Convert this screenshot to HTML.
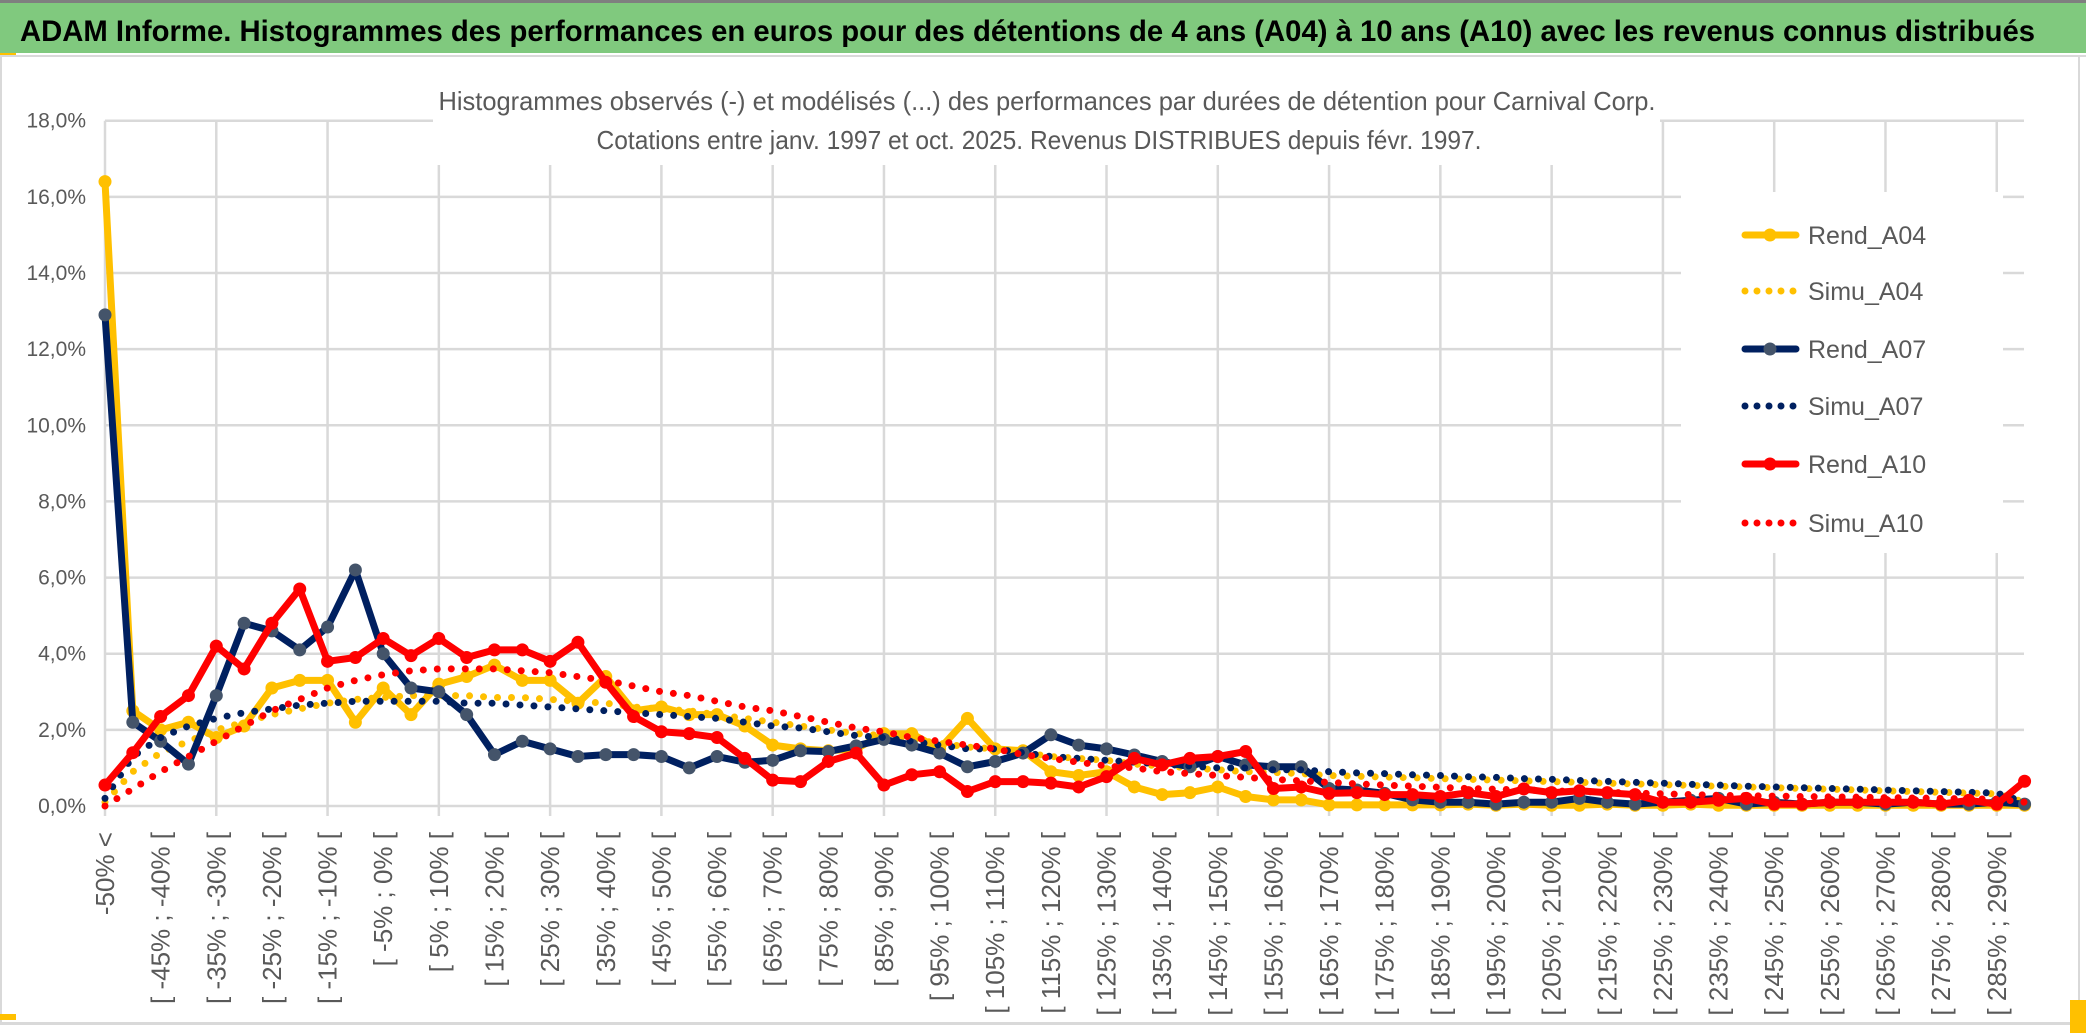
<!DOCTYPE html>
<html><head><meta charset="utf-8"><style>
html,body{margin:0;padding:0;background:#fff;}
svg{display:block;font-family:"Liberation Sans",sans-serif;}
</style></head><body>
<svg id="chart" width="2086" height="1033" viewBox="0 0 2086 1033" xmlns="http://www.w3.org/2000/svg">
<rect x="0" y="0" width="2086" height="1033" fill="#fff"/>
<rect x="0" y="0" width="2086" height="3" fill="#7f7f7f"/>
<rect x="0" y="3" width="2086" height="50" fill="#80C97E"/>
<text x="20" y="41" font-size="30" font-weight="bold" fill="#000" textLength="2015" lengthAdjust="spacingAndGlyphs">ADAM Informe. Histogrammes des performances en euros pour des détentions de 4 ans (A04) à 10 ans (A10) avec les revenus connus distribués</text>
<rect x="0" y="53" width="16" height="3" fill="#FFC000"/>
<rect x="0" y="55" width="2086" height="2" fill="#d9d9d9"/>
<rect x="0" y="55" width="2" height="970" fill="#d9d9d9"/>
<rect x="2078" y="55" width="2" height="970" fill="#d9d9d9"/>
<rect x="0" y="1022" width="2086" height="3" fill="#d9d9d9"/>
<rect x="0" y="1014" width="16" height="6" fill="#FFC000"/>
<rect x="2070" y="1000" width="16" height="33" fill="#FFC000"/>
<g id="grid"></g>
<rect x="433" y="62" width="1227" height="103" fill="#fff"/>
<rect x="1681" y="192" width="322" height="361" fill="#fff"/>
<text x="1047" y="110" font-size="26" fill="#595959" text-anchor="middle" textLength="1217" lengthAdjust="spacingAndGlyphs">Histogrammes observés (-) et modélisés (...) des performances par durées de détention pour Carnival Corp.</text>
<text x="1039" y="149" font-size="26" fill="#595959" text-anchor="middle" textLength="885" lengthAdjust="spacingAndGlyphs">Cotations entre janv. 1997 et oct. 2025. Revenus DISTRIBUES depuis févr. 1997.</text>
<g id="yaxis"></g>
<g id="xaxis"></g>
<g id="series"></g>
<g id="legend"></g>
</svg>
<script>
const categories = ["-50% <","[ -50% ; -45% [","[ -45% ; -40% [","[ -40% ; -35% [","[ -35% ; -30% [","[ -30% ; -25% [","[ -25% ; -20% [","[ -20% ; -15% [","[ -15% ; -10% [","[ -10% ; -5% [",
"[ -5% ; 0% [","[ 0% ; 5% [","[ 5% ; 10% [","[ 10% ; 15% [","[ 15% ; 20% [","[ 20% ; 25% [","[ 25% ; 30% [","[ 30% ; 35% [","[ 35% ; 40% [","[ 40% ; 45% [",
"[ 45% ; 50% [","[ 50% ; 55% [","[ 55% ; 60% [","[ 60% ; 65% [","[ 65% ; 70% [","[ 70% ; 75% [","[ 75% ; 80% [","[ 80% ; 85% [","[ 85% ; 90% [","[ 90% ; 95% [",
"[ 95% ; 100% [","[ 100% ; 105% [","[ 105% ; 110% [","[ 110% ; 115% [","[ 115% ; 120% [","[ 120% ; 125% [","[ 125% ; 130% [","[ 130% ; 135% [","[ 135% ; 140% [","[ 140% ; 145% [",
"[ 145% ; 150% [","[ 150% ; 155% [","[ 155% ; 160% [","[ 160% ; 165% [","[ 165% ; 170% [","[ 170% ; 175% [","[ 175% ; 180% [","[ 180% ; 185% [","[ 185% ; 190% [","[ 190% ; 195% [",
"[ 195% ; 200% [","[ 200% ; 205% [","[ 205% ; 210% [","[ 210% ; 215% [","[ 215% ; 220% [","[ 220% ; 225% [","[ 225% ; 230% [","[ 230% ; 235% [","[ 235% ; 240% [","[ 240% ; 245% [",
"[ 245% ; 250% [","[ 250% ; 255% [","[ 255% ; 260% [","[ 260% ; 265% [","[ 265% ; 270% [","[ 270% ; 275% [","[ 275% ; 280% [","[ 280% ; 285% [","[ 285% ; 290% [","[ 290% ; 295% ["];
const yTicks = [0,2,4,6,8,10,12,14,16,18];
const yTickLabels = ["0,0%","2,0%","4,0%","6,0%","8,0%","10,0%","12,0%","14,0%","16,0%","18,0%"];
const rendA04 = [16.4,2.5,2.0,2.2,1.8,2.1,3.1,3.3,3.3,2.2, 3.1,2.4,3.2,3.4,3.7,3.3,3.3,2.7,3.4,2.5, 2.6,2.4,2.4,2.1,1.6,1.5,1.45,1.5,1.9,1.9, 1.5,2.3,1.5,1.45,0.9,0.8,0.9,0.5,0.3,0.35, 0.5,0.25,0.16,0.16,0.03,0.03,0.03,0.03,0.03,0.05, 0.02,0.05,0.02,0.02,0.05,0.02,0.02,0.05,0.02,0.02, 0.02,0.02,0.02,0.02,0.02,0.02,0.02,0.02,0.02,0.02];
const simuA04 = [0.1,0.9,1.4,1.7,2.0,2.2,2.4,2.55,2.7,2.8, 2.85,2.9,2.9,2.9,2.85,2.85,2.8,2.75,2.7,2.6, 2.55,2.5,2.4,2.3,2.2,2.1,2.0,1.9,1.85,1.75, 1.65,1.55,1.5,1.4,1.3,1.25,1.2,1.1,1.05,1.0, 0.95,0.9,0.88,0.85,0.8,0.78,0.76,0.74,0.72,0.7, 0.68,0.66,0.64,0.62,0.6,0.58,0.56,0.54,0.52,0.5, 0.48,0.46,0.44,0.42,0.4,0.38,0.36,0.34,0.32,0.1];
const rendA07 = [12.9,2.2,1.7,1.1,2.9,4.8,4.6,4.1,4.7,6.2, 4.0,3.1,3.0,2.4,1.35,1.7,1.5,1.3,1.35,1.35, 1.3,1.0,1.3,1.15,1.2,1.45,1.43,1.58,1.75,1.6, 1.39,1.03,1.17,1.39,1.87,1.6,1.5,1.34,1.17,1.03, 1.3,1.08,1.03,1.03,0.46,0.42,0.33,0.16,0.1,0.1, 0.05,0.1,0.1,0.2,0.1,0.05,0.1,0.15,0.2,0.05, 0.1,0.05,0.1,0.1,0.05,0.1,0.05,0.05,0.1,0.05];
const simuA07 = [0.2,1.3,1.8,2.1,2.3,2.45,2.55,2.65,2.7,2.75, 2.75,2.75,2.75,2.7,2.7,2.65,2.6,2.55,2.5,2.45, 2.4,2.35,2.3,2.2,2.1,2.05,1.95,1.85,1.8,1.7, 1.6,1.5,1.5,1.4,1.3,1.25,1.2,1.15,1.1,1.05, 1.0,1.0,0.95,0.95,0.9,0.87,0.85,0.82,0.8,0.77, 0.75,0.72,0.7,0.67,0.65,0.62,0.6,0.57,0.55,0.52, 0.5,0.48,0.46,0.44,0.42,0.4,0.38,0.36,0.34,0.1];
const rendA10 = [0.55,1.4,2.35,2.9,4.2,3.6,4.8,5.7,3.8,3.9, 4.4,3.95,4.4,3.9,4.1,4.1,3.8,4.3,3.25,2.35, 1.95,1.9,1.8,1.25,0.68,0.64,1.17,1.39,0.55,0.82, 0.9,0.38,0.64,0.64,0.6,0.5,0.77,1.25,1.08,1.25, 1.3,1.43,0.46,0.5,0.33,0.35,0.3,0.3,0.25,0.35, 0.25,0.45,0.35,0.4,0.35,0.3,0.1,0.1,0.15,0.2, 0.05,0.05,0.1,0.1,0.1,0.1,0.05,0.15,0.05,0.65];
const simuA10 = [0.0,0.45,0.9,1.3,1.7,2.1,2.5,2.8,3.1,3.3, 3.45,3.55,3.6,3.6,3.6,3.55,3.5,3.4,3.3,3.15, 3.0,2.9,2.75,2.6,2.5,2.35,2.2,2.05,1.95,1.8, 1.7,1.6,1.5,1.35,1.25,1.15,1.05,1.0,0.9,0.85, 0.8,0.75,0.7,0.66,0.62,0.58,0.55,0.52,0.49,0.46, 0.44,0.42,0.4,0.38,0.36,0.34,0.32,0.3,0.28,0.27, 0.26,0.25,0.24,0.23,0.22,0.21,0.2,0.19,0.18,0.1];

const NS = "http://www.w3.org/2000/svg";
const X0 = 105, STEP = 27.82, Y0 = 806, YTOP = 120.7, XR = 2024;
function xs(i){ return X0 + i*STEP; }
function ys(v){ return Y0 - (v/18)*(Y0-YTOP); }
function mk(tag, attrs, parent){ const e=document.createElementNS(NS,tag); for(const k in attrs) e.setAttribute(k, attrs[k]); parent.appendChild(e); return e; }

const grid = document.getElementById('grid');
yTicks.forEach(function(t){
  const l = mk('line',{x1:X0,x2:XR,y1:ys(t),y2:ys(t),stroke:'#d9d9d9','stroke-width':2.5},grid);
  
  
});
categories.forEach(function(c,i){
  if(i%4===0){
    const l = mk('line',{x1:xs(i),x2:xs(i),y1:YTOP,y2:Y0+10,stroke:'#d9d9d9','stroke-width':2.5},grid);
    
    
  }
});
const yaxis = document.getElementById('yaxis');
yTicks.forEach(function(t,k){
  const tx = mk('text',{x:86,y:ys(t)+7,'font-size':21,fill:'#595959','text-anchor':'end'},yaxis);
  tx.textContent = yTickLabels[k];
  
  
});
const xaxis = document.getElementById('xaxis');
categories.forEach(function(c,i){
  if(i%2!==0) return;
  const x = xs(i)+9, y = 832;
  const tx = mk('text',{x:x,y:y,'font-size':26,fill:'#595959','text-anchor':'end',transform:'rotate(-90 '+x+' '+y+')'},xaxis);
  tx.textContent = c;
  
  
});

const seriesDefs = [
  {name:'Rend_A04', data:rendA04, color:'#FFC000', marker:'#FFC000', dotted:false},
  {name:'Simu_A04', data:simuA04, color:'#FFC000', dotted:true},
  {name:'Rend_A07', data:rendA07, color:'#002060', marker:'#44546A', dotted:false},
  {name:'Simu_A07', data:simuA07, color:'#002060', dotted:true},
  {name:'Rend_A10', data:rendA10, color:'#FF0000', marker:'#FF0000', dotted:false},
  {name:'Simu_A10', data:simuA10, color:'#FF0000', dotted:true}
];
const layer = document.getElementById('series');
seriesDefs.forEach(function(s){
  const g = mk('g',{},layer);
  
  
  const pts = s.data.map(function(v,i){ return xs(i).toFixed(1)+','+ys(v).toFixed(1); }).join(' ');
  const attrs = {points:pts, fill:'none', stroke:s.color, 'stroke-width':7, 'stroke-linejoin':'round', 'stroke-linecap':'round'};
  if(s.dotted){ attrs['stroke-dasharray']='0 14'; }
  const pl = mk('polyline', attrs, g);
  
  
  if(!s.dotted){
    s.data.forEach(function(v,i){
      const c = mk('circle',{cx:xs(i),cy:ys(v),r:6.5,fill:s.marker},g);
      
      
    });
  }
});

const legend = document.getElementById('legend');
const legendY = [235,291,349,406,464,523];
seriesDefs.forEach(function(s,k){
  const g = mk('g',{},legend);
  
  
  const y = legendY[k];
  const a = {x1:1745,x2:1796,y1:y,y2:y,stroke:s.color,'stroke-width':7,'stroke-linecap':'round'};
  if(s.dotted) a['stroke-dasharray']='0 12';
  mk('line',a,g);
  if(!s.dotted) mk('circle',{cx:1770,cy:y,r:6.5,fill:s.marker},g);
  const t = mk('text',{x:1808,y:y+9,'font-size':25,fill:'#595959'},g);
  t.textContent = s.name;
});
</script>
</body></html>
